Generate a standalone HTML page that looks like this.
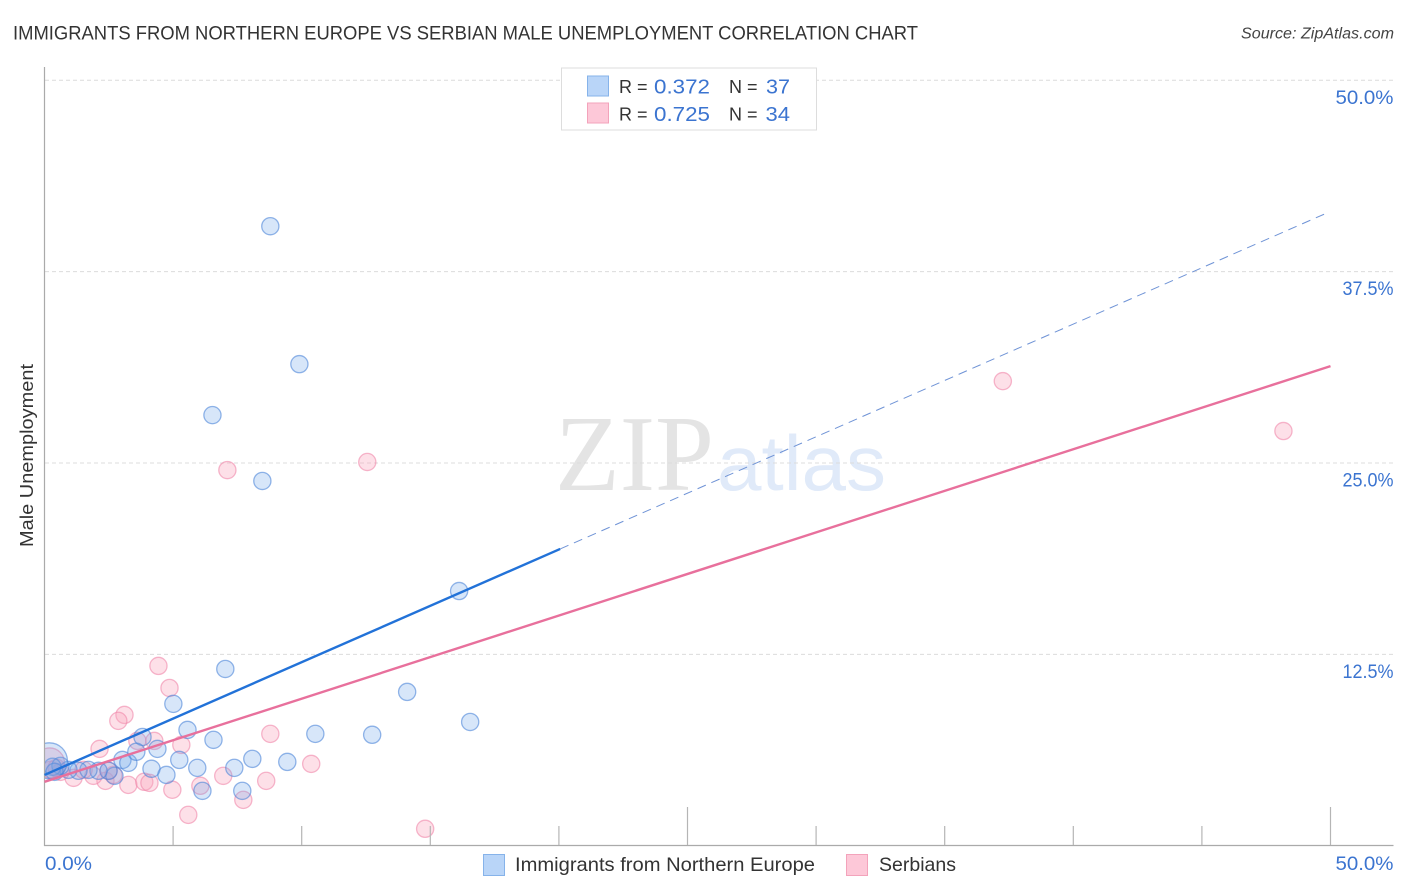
<!DOCTYPE html>
<html>
<head>
<meta charset="utf-8">
<title>Immigrants from Northern Europe vs Serbian Male Unemployment Correlation Chart</title>
<style>
html,body{margin:0;padding:0;background:#fff}
svg{display:block;font-family:"Liberation Sans",sans-serif}
</style>
</head>
<body>
<svg id="chart" width="1406" height="892" viewBox="0 0 1406 892" xmlns="http://www.w3.org/2000/svg">
<defs><clipPath id="plot-clip"><rect x="45" y="60" width="1350" height="785"/></clipPath></defs>
<rect width="1406" height="892" fill="#fff"/>
<text x="13" y="39.5" font-size="19.5" fill="#333" textLength="905" lengthAdjust="spacingAndGlyphs">IMMIGRANTS FROM NORTHERN EUROPE VS SERBIAN MALE UNEMPLOYMENT CORRELATION CHART</text>
<text x="1241" y="38.5" font-size="15.5" font-style="italic" fill="#444" textLength="153" lengthAdjust="spacingAndGlyphs">Source: ZipAtlas.com</text>
<g>
<text x="555" y="490" font-family="'Liberation Serif',serif" font-size="108" fill="#e4e4e4" textLength="159" lengthAdjust="spacingAndGlyphs">ZIP</text>
<text x="717" y="490" font-size="78" fill="#e0eaf9" textLength="169" lengthAdjust="spacingAndGlyphs">atlas</text>
</g>
<g id="grid"></g>
<g id="pink-points" clip-path="url(#plot-clip)"></g>
<g id="blue-points" clip-path="url(#plot-clip)"></g>
<rect x="26" y="735" width="18.5" height="60" fill="#fff"/>
<g id="axes"></g>
<g id="trends"></g>
<text transform="translate(33,547) rotate(-90)" font-size="18" fill="#333" textLength="183" lengthAdjust="spacingAndGlyphs">Male Unemployment</text>
<g>
<rect x="561.5" y="68" width="255" height="62" fill="#fff" stroke="#ddd" stroke-width="1"/>
<rect x="587.5" y="76" width="21" height="20" fill="#b9d5f8" stroke="#86b3ea"/>
<rect x="587.5" y="103" width="21" height="20" fill="#fdc8d8" stroke="#f3a3bb"/>
<text x="619" y="93" font-size="18" fill="#333">R =</text>
<text x="654" y="93.5" font-size="20.5" fill="#3b74d0" textLength="56" lengthAdjust="spacingAndGlyphs">0.372</text>
<text x="729" y="93" font-size="18" fill="#333">N =</text>
<text x="766" y="93.5" font-size="20.5" fill="#3b74d0" textLength="24" lengthAdjust="spacingAndGlyphs">37</text>
<text x="619" y="120.5" font-size="18" fill="#333">R =</text>
<text x="654" y="121" font-size="20.5" fill="#3b74d0" textLength="56" lengthAdjust="spacingAndGlyphs">0.725</text>
<text x="729" y="120.5" font-size="18" fill="#333">N =</text>
<text x="765.5" y="121" font-size="20.5" fill="#3b74d0" textLength="24.5" lengthAdjust="spacingAndGlyphs">34</text>
</g>
<g>
<rect x="483.5" y="854.5" width="21" height="21" fill="#b9d5f8" stroke="#86b3ea"/>
<text x="515" y="871" font-size="19.5" fill="#333" textLength="300" lengthAdjust="spacingAndGlyphs">Immigrants from Northern Europe</text>
<rect x="846.5" y="854.5" width="21" height="21" fill="#fdc8d8" stroke="#f3a3bb"/>
<text x="879" y="871" font-size="19.5" fill="#333" textLength="77" lengthAdjust="spacingAndGlyphs">Serbians</text>
</g>
</svg>
<script>
// Tick values and labels
const xTickValues = [0, 5, 10, 15, 20, 25, 30, 35, 40, 45, 50];
const xMajorTicks = [25, 50];
const xTickLabels = ["0.0%", "50.0%"];
const yTickValues = [12.5, 25, 37.5, 50];
const yTickLabels = ["12.5%", "25.0%", "37.5%", "50.0%"];

// Immigrants from Northern Europe
const blueX = [8.78, 9.91, 6.53, 8.47, 16.12, 7.03, 14.10, 5.01, 16.55, 10.53, 12.74, 5.56, 3.81, 6.57, 4.39, 8.08, 9.44, 3.03, 3.26, 5.24, 5.94, 7.38, 4.16, 4.74, 2.72, 6.14, 7.69, 3.57, 2.49, 2.10, 1.71, 1.32, 0.93, 0.62, 0.31, 0.39, 0.19];
const blueY = [40.47, 31.46, 28.13, 23.83, 16.64, 11.55, 10.05, 9.27, 8.09, 7.31, 7.25, 7.57, 7.11, 6.92, 6.33, 5.68, 5.48, 5.61, 5.42, 5.61, 5.09, 5.09, 5.03, 4.63, 4.57, 3.59, 3.59, 6.14, 4.90, 4.90, 4.96, 4.90, 4.96, 5.22, 5.16, 4.83, 5.55];
const blueWeight = [1, 1, 1, 1, 1, 1, 1, 1, 1, 1, 1, 1, 1, 1, 1, 1, 1, 1, 1, 1, 1, 1, 1, 1, 1, 1, 1, 1, 1, 1, 1, 1, 1, 1, 1, 1, 4.4];

// Serbians
const pinkX = [37.26, 48.17, 12.55, 7.11, 4.43, 4.86, 3.11, 2.87, 2.14, 3.61, 4.27, 5.32, 8.78, 10.37, 6.95, 8.62, 7.73, 6.06, 4.97, 5.59, 14.80, 3.26, 3.88, 4.08, 2.37, 2.68, 1.90, 1.13, 1.52, 0.62, 0.23, 2.49, 0.47, 0.20];
const pinkY = [30.35, 27.09, 25.07, 24.54, 11.75, 10.31, 8.55, 8.16, 6.33, 6.85, 6.85, 6.59, 7.31, 5.35, 4.57, 4.24, 3.00, 3.92, 3.66, 2.02, 1.11, 3.98, 4.18, 4.11, 4.24, 4.63, 4.57, 4.44, 4.96, 4.83, 4.96, 4.90, 5.09, 5.42];
const pinkWeight = [1, 1, 1, 1, 1, 1, 1, 1, 1, 1, 1, 1, 1, 1, 1, 1, 1, 1, 1, 1, 1, 1, 1, 1, 1, 1, 1, 1, 1, 1, 1, 1, 1, 3];

// Trend lines: [x, y] in data units
const blueTrendSolidX = [0, 20.05];
const blueTrendSolidY = [4.63, 19.39];
const blueTrendDashX = [20.05, 49.87];
const blueTrendDashY = [19.39, 41.34];
const pinkTrendX = [0, 50];
const pinkTrendY = [4.18, 31.33];

const NS = 'http://www.w3.org/2000/svg';
function xScale(v) { return 44.5 + v * (1330.5 - 44.5) / 50; }
function yScale(v) { return 845.8 - v * (845.8 - 80.3) / 50; }
function rScale(w) { return 8.6 * Math.sqrt(w); }
function make(tag, attrs) {
  const el = document.createElementNS(NS, tag);
  for (const k in attrs) el.setAttribute(k, attrs[k]);
  return el;
}

const gridG = document.getElementById('grid');
const axesG = document.getElementById('axes');
yTickValues.forEach(function (v, i) {
  const line = make('line', { x1: 45, x2: 1394, y1: yScale(v), y2: yScale(v), stroke: '#dcdcdc', 'stroke-width': 1, 'stroke-dasharray': '4 3' });
  
  
  gridG.appendChild(line);
  const label = make('text', { x: 1393.5, y: yScale(v) + 23.5, 'text-anchor': 'end', 'font-size': 19.5, fill: '#3b74d0', textLength: v === 50 ? 58 : 51, lengthAdjust: 'spacingAndGlyphs' });
  
  
  label.textContent = yTickLabels[i];
  axesG.appendChild(label);
});

const yAxis = make('line', { x1: 44.5, x2: 44.5, y1: 67, y2: 846, stroke: '#aaa', 'stroke-width': 1.2 });


axesG.appendChild(yAxis);
const xAxis = make('line', { x1: 44, x2: 1393.5, y1: 845.5, y2: 845.5, stroke: '#aaa', 'stroke-width': 1.2 });


axesG.appendChild(xAxis);

xTickValues.slice(1).forEach(function (v) {
  const major = xMajorTicks.indexOf(v) >= 0;
  const tick = make('line', { x1: xScale(v), x2: xScale(v), y1: major ? 807 : 826, y2: 845, stroke: '#b5b5b5', 'stroke-width': 1.2 });
  
  
  axesG.appendChild(tick);
});

const xLabelLow = make('text', { x: 45, y: 870, 'font-size': 19.5, fill: '#3b74d0', textLength: 47, lengthAdjust: 'spacingAndGlyphs' });


xLabelLow.textContent = xTickLabels[0];
axesG.appendChild(xLabelLow);
const xLabelHigh = make('text', { x: 1393.5, y: 870, 'text-anchor': 'end', 'font-size': 19.5, fill: '#3b74d0', textLength: 58, lengthAdjust: 'spacingAndGlyphs' });


xLabelHigh.textContent = xTickLabels[1];
axesG.appendChild(xLabelHigh);

const pinkG = document.getElementById('pink-points');
pinkX.forEach(function (v, i) {
  const c = make('circle', { cx: xScale(v), cy: yScale(pinkY[i]), r: rScale(pinkWeight[i]), fill: 'rgba(250,165,190,0.35)', stroke: 'rgba(240,135,170,0.6)', 'stroke-width': 1.3 });
  
  
  pinkG.appendChild(c);
});
const blueG = document.getElementById('blue-points');
blueX.forEach(function (v, i) {
  const c = make('circle', { cx: xScale(v), cy: yScale(blueY[i]), r: rScale(blueWeight[i]), fill: 'rgba(110,165,235,0.28)', stroke: 'rgba(70,130,215,0.58)', 'stroke-width': 1.3 });
  
  
  blueG.appendChild(c);
});

const trendG = document.getElementById('trends');
const pinkLine = make('line', { x1: xScale(pinkTrendX[0]), y1: yScale(pinkTrendY[0]), x2: xScale(pinkTrendX[1]), y2: yScale(pinkTrendY[1]), stroke: '#e8709c', 'stroke-width': 2.4 });


trendG.appendChild(pinkLine);
const blueLine = make('line', { x1: xScale(blueTrendSolidX[0]), y1: yScale(blueTrendSolidY[0]), x2: xScale(blueTrendSolidX[1]), y2: yScale(blueTrendSolidY[1]), stroke: '#2272d8', 'stroke-width': 2.4 });


trendG.appendChild(blueLine);
const blueDash = make('line', { x1: xScale(blueTrendDashX[0]), y1: yScale(blueTrendDashY[0]), x2: xScale(blueTrendDashX[1]), y2: yScale(blueTrendDashY[1]), stroke: '#6f93d6', 'stroke-width': 1, 'stroke-dasharray': '9 6' });


trendG.appendChild(blueDash);
</script>
</body>
</html>
